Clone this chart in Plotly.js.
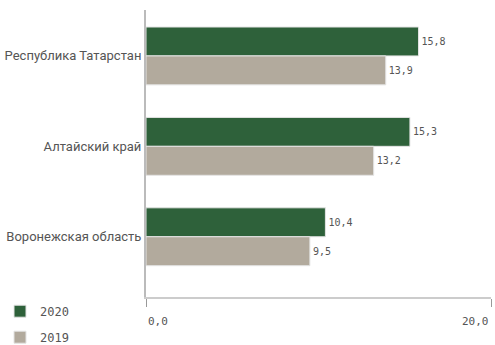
<!DOCTYPE html>
<html><head><meta charset="utf-8">
<script src="https://cdn.plot.ly/plotly-3.0.1.min.js"></script>
<style>html,body{margin:0;padding:0;background:#fff}#chart{width:495px;height:345px}</style>
</head><body><div id="chart"></div>
<script>
const categories = ['Республика Татарстан', 'Алтайский край', 'Воронежская область'];
const values2020 = [15.8, 15.3, 10.4];
const values2019 = [13.9, 13.2, 9.5];
const seriesNames = ['2020', '2019'];
const tickVals = [0, 20];
const tickText = ['0,0', '20,0'];

const mono = '"DejaVu Sans Mono", monospace';
const sans = 'Roboto, "Noto Sans", sans-serif';

const traces = [
  {type:'bar', orientation:'h', name:seriesNames[0], legendgroup:'a', y:categories, x:values2020,
   marker:{color:'#2e613a', line:{color:'#e4e4e4', width:1}},
   texttemplate:'%{x:.1f}', textposition:'outside', cliponaxis:false,
   textfont:{family:mono, size:10, color:'#555'}, hoverinfo:'none'},
  {type:'bar', orientation:'h', name:seriesNames[1], legendgroup:'b', y:categories, x:values2019,
   marker:{color:'#b2aa9d', line:{color:'#e4e4e4', width:1}},
   texttemplate:'%{x:.1f}', textposition:'outside', cliponaxis:false,
   textfont:{family:mono, size:10, color:'#555'}, hoverinfo:'none'}
];

const annotations = tickVals.map((v, i) => ({
  x: v, xref:'x', y: 0, yref:'paper', yshift: -25, text: tickText[i], showarrow:false,
  xanchor: i === 0 ? 'left' : 'right', yanchor:'middle',
  font:{family:mono, size:11, color:'#555'}
}));

const layout = {
  width:495, height:345,
  margin:{l:146, r:4, t:10, b:48},
  paper_bgcolor:'#fff', plot_bgcolor:'#fff',
  separators:', ',
  barmode:'group', bargap:0.36, bargroupgap:0,
  showlegend:true,
  legend:{xref:'paper', yref:'container', x:-0.426, y:0.14, xanchor:'left', yanchor:'top',
          orientation:'v', traceorder:'grouped', tracegroupgap:7,
          font:{family:mono, size:12, color:'#555'}, bgcolor:'rgba(0,0,0,0)'},
  xaxis:{range:[0,20], tickvals:tickVals, showticklabels:false, showgrid:true, gridcolor:'#999', gridwidth:1,
         zeroline:false, showline:true, linecolor:'#ccc', linewidth:2, ticks:'outside', ticklen:8, tickcolor:'#999',
         fixedrange:true},
  yaxis:{type:'category', range:[2.663, -0.508], showline:true, linecolor:'#bbb', linewidth:2, showgrid:false,
         zeroline:false, ticks:'', ticklen:0, tickfont:{family:sans, size:13, color:'#555'}, automargin:false},
  annotations: annotations
};

Plotly.newPlot('chart', traces, layout, {staticPlot:true, displayModeBar:false});
</script>
</body></html>
